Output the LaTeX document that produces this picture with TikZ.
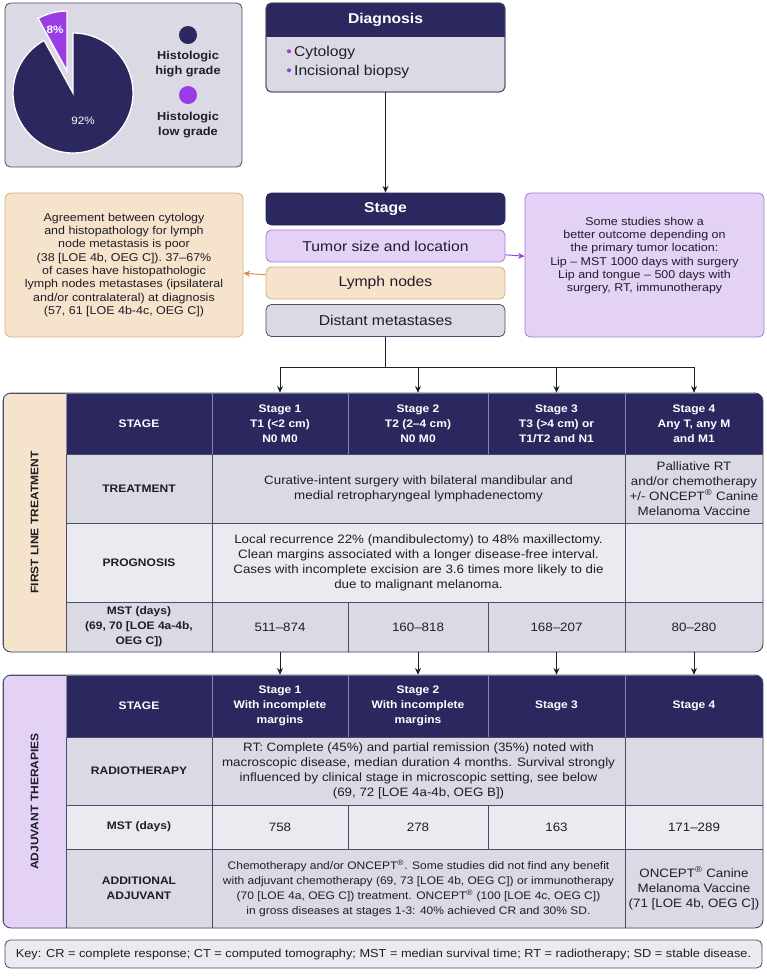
\documentclass[tikz,border=0pt]{standalone}
\usepackage{fontspec}
\setmainfont{Liberation Sans}[FakeStretch=1.1]
\usetikzlibrary{arrows.meta}
\definecolor{navy}{HTML}{2B275F}
\definecolor{ink}{HTML}{1E1E28}
\definecolor{lav}{HTML}{E4D1F6}
\definecolor{lavline}{HTML}{A47BD8}
\definecolor{purp}{HTML}{9A3DE4}
\definecolor{peach}{HTML}{F5E3CB}
\definecolor{peachline}{HTML}{D6AE80}
\definecolor{orangeline}{HTML}{D98A3A}
\definecolor{greybox}{HTML}{DAD9E4}
\definecolor{greylite}{HTML}{EAEAF0}
\definecolor{rule}{HTML}{4D4B6B}
\newcommand\szbig{\fontsize{10.7pt}{14pt}\selectfont}
\newcommand\sznote{\fontsize{8.5pt}{10pt}\selectfont}
\newcommand\sztab{\fontsize{9.1pt}{11.25pt}\selectfont}
\newcommand\sztabs{\fontsize{8.2pt}{11.25pt}\selectfont}
\newcommand\szhead{\fontsize{8.2pt}{11.25pt}\selectfont}
\newcommand\szleg{\fontsize{8.7pt}{11.25pt}\selectfont}
\newcommand\szkey{\fontsize{8.7pt}{10pt}\selectfont}
\newcommand\szpie{\fontsize{8pt}{9pt}\selectfont}
\begin{document}
\begin{tikzpicture}[x=0.75pt,y=-0.75pt,
  sz/.style 2 args={minimum width=#1*0.75pt,minimum height=#2*0.75pt,inner sep=0pt},
  box/.style={rounded corners=4pt,line width=0.6pt,align=center,text=ink},
  cell/.style={draw=rule,line width=0.5pt,align=center,text=ink,font=\sztab},
  hd/.style={cell,fill=navy,draw=navy!55!white,text=white,font=\szhead\bfseries},
  rowA/.style={cell,fill=greybox},
  rowB/.style={cell,fill=greylite},
  lab/.style={font=\szhead\bfseries},
  arr/.style={-{Stealth[length=5pt,width=4.5pt]},line width=0.7pt,draw=ink}]
\useasboundingbox (0,0) rectangle (767,979);
% pie chart
\node[box,draw=rule,fill=greybox,sz={237}{164}] (piebox) at (123.5,85) {};
\fill[navy,draw=white,line width=1pt] (73,93) -- ++(-90:60) arc[start angle=-90,end angle=241.2,radius=60] -- cycle;
\fill[purp,draw=white,line width=1pt] (67,71) -- ++(-118.8:60) arc[start angle=-118.8,end angle=-90,radius=60] -- cycle;
\node[font=\szpie\bfseries,text=white] (lo) at (55,30) {8\%};
\node[font=\szpie,text=white] (hi) at (83,121) {92\%};
\node[circle,fill=navy,sz={18}{18}] (khi) at (188,35) {};
\node[font=\szleg\bfseries,align=center,text=ink] (khil) at (188,64.5) {Histologic\\high grade};
\node[circle,fill=purp,sz={18}{18}] (klo) at (188,95) {};
\node[font=\szleg\bfseries,align=center,text=ink] (klol) at (188,125.5) {Histologic\\low grade};
% diagnosis
\node[box,draw=rule,fill=greybox,sz={239}{89}] (diag) at (385.5,47.5) {};
\begin{scope}
\clip[rounded corners=4pt] (266,3) rectangle (505,92);
\fill[navy] (266,3) rectangle (505,37);
\end{scope}
\draw[rule,line width=0.6pt,rounded corners=4pt] (266,3) rectangle (505,92);
\node[text=white,font=\szbig\bfseries] (diagt) at (385.5,20) {Diagnosis};
\node[anchor=west,align=left,inner sep=0pt,font=\szbig,text=ink] (dlist) at (286,62.5)
  {\textcolor{purp}{\textbullet}\,Cytology\\\textcolor{purp}{\textbullet}\,Incisional biopsy};
% stage stack
\node[box,fill=navy,draw=navy,text=white,font=\szbig\bfseries,sz={239}{32}] (stage) at (385.5,209) {Stage};
\node[box,fill=lav,draw=lavline,font=\szbig,sz={239}{32}] (tumor) at (385.5,246) {Tumor size and location};
\node[box,fill=peach,draw=peachline,font=\szbig,sz={239}{32}] (lymph) at (385.5,283) {Lymph nodes};
\node[box,fill=greybox,draw=rule,font=\szbig,sz={239}{32}] (dist) at (385.5,320.5) {Distant metastases};
\node[box,fill=peach,draw=peachline,font=\sznote,sz={238}{144}] (lnnote) at (124,265)
  {Agreement between cytology\\and histopathology for lymph\\node metastasis is poor\\(38 [LOE 4b, OEG C]). 37–67\%\\of cases have histopathologic\\lymph nodes metastases (ipsilateral\\and/or contralateral) at diagnosis\\(57, 61 [LOE 4b-4c, OEG C])};
\node[box,fill=lav,draw=lavline,font=\sznote,sz={239}{144}] (sitenote) at (644.5,265)
  {Some studies show a\\better outcome depending on\\the primary tumor location:\\Lip – MST 1000 days with surgery\\Lip and tongue – 500 days with\\surgery, RT, immunotherapy\\[6pt]};
% first line treatment
\begin{scope}
\clip[rounded corners=6pt] (3,393) rectangle (763,652);
\node[cell,fill=peach,sz={63}{259}] (band1) at (34.5,522.5) {};
\node[rotate=90,font=\szhead\bfseries,text=ink] (band1t) at (band1) {FIRST LINE TREATMENT};
\node[hd,sz={146}{61}] (t1h) at (139,423.5) {STAGE};
\node[hd,sz={136}{61}] (t1s1) at (280,423.5) {Stage 1\\T1 (<2 cm)\\N0 M0};
\node[hd,sz={140}{61}] (t1s2) at (418,423.5) {Stage 2\\T2 (2–4 cm)\\N0 M0};
\node[hd,sz={137}{61}] (t1s3) at (556.5,423.5) {Stage 3\\T3 (>4 cm) or\\T1/T2 and N1};
\node[hd,sz={138}{61}] (t1s4) at (694,423.5) {Stage 4\\Any T, any M\\and M1};
\node[rowA,lab,sz={146}{69}] (t1tl) at (139,488.5) {TREATMENT};
\node[rowA,sz={413}{69}] (t1t) at (418.5,488.5) {Curative-intent surgery with bilateral mandibular and\\medial retropharyngeal lymphadenectomy};
\node[rowA,sz={138}{69}] (t1t4) at (694,488.5) {Palliative RT\\and/or chemotherapy\\+/- ONCEPT\textsuperscript{®} Canine\\Melanoma Vaccine};
\node[rowB,lab,sz={146}{79}] (t1pl) at (139,562.5) {PROGNOSIS};
\node[rowB,sz={413}{79}] (t1p) at (418.5,562.5) {Local recurrence 22\% (mandibulectomy) to 48\% maxillectomy.\\Clean margins associated with a longer disease-free interval.\\Cases with incomplete excision are 3.6 times more likely to die\\due to malignant melanoma.};
\node[rowB,sz={138}{79}] (t1p4) at (694,562.5) {};
\node[rowA,lab,sz={146}{50}] (t1ml) at (139,627) {MST (days)\\(69, 70 [LOE 4a-4b,\\OEG C])};
\node[rowA,sz={136}{50}] (t1m1) at (280,627) {511–874};
\node[rowA,sz={140}{50}] (t1m2) at (418,627) {160–818};
\node[rowA,sz={137}{50}] (t1m3) at (556.5,627) {168–207};
\node[rowA,sz={138}{50}] (t1m4) at (694,627) {80–280};
\end{scope}
\draw[rule,line width=0.7pt,rounded corners=6pt] (3,393) rectangle (763,652);
% adjuvant therapies
\begin{scope}
\clip[rounded corners=6pt] (3,675) rectangle (763,928);
\node[cell,fill=lav,sz={63}{253}] (band2) at (34.5,801.5) {};
\node[rotate=90,font=\szhead\bfseries,text=ink] (band2t) at (band2) {ADJUVANT THERAPIES};
\node[hd,sz={146}{62}] (t2h) at (139,706) {STAGE};
\node[hd,sz={136}{62}] (t2s1) at (280,706) {Stage 1\\With incomplete\\margins};
\node[hd,sz={140}{62}] (t2s2) at (418,706) {Stage 2\\With incomplete\\margins};
\node[hd,sz={137}{62}] (t2s3) at (556.5,706) {Stage 3};
\node[hd,sz={138}{62}] (t2s4) at (694,706) {Stage 4};
\node[rowA,lab,sz={146}{68}] (t2rl) at (139,771) {RADIOTHERAPY};
\node[rowA,sz={413}{68}] (t2r) at (418.5,771) {RT: Complete (45\%) and partial remission (35\%) noted with\\macroscopic disease, median duration 4 months. Survival strongly\\influenced by clinical stage in microscopic setting, see below\\(69, 72 [LOE 4a-4b, OEG B])};
\node[rowA,sz={138}{68}] (t2r4) at (694,771) {};
\node[rowB,lab,sz={146}{44}] (t2ml) at (139,827) {MST (days)};
\node[rowB,sz={136}{44}] (t2m1) at (280,827) {758};
\node[rowB,sz={140}{44}] (t2m2) at (418,827) {278};
\node[rowB,sz={137}{44}] (t2m3) at (556.5,827) {163};
\node[rowB,sz={138}{44}] (t2m4) at (694,827) {171–289};
\node[rowA,lab,sz={146}{79}] (t2al) at (139,888.5) {ADDITIONAL\\ADJUVANT};
\node[rowA,font=\sztabs,sz={413}{79}] (t2a) at (418.5,888.5) {Chemotherapy and/or ONCEPT\textsuperscript{®}. Some studies did not find any benefit\\with adjuvant chemotherapy (69, 73 [LOE 4b, OEG C]) or immunotherapy\\(70 [LOE 4a, OEG C]) treatment. ONCEPT\textsuperscript{®} (100 [LOE 4c, OEG C])\\in gross diseases at stages 1-3: 40\% achieved CR and 30\% SD.};
\node[rowA,sz={138}{79}] (t2a4) at (694,888.5) {ONCEPT\textsuperscript{®} Canine\\Melanoma Vaccine\\(71 [LOE 4b, OEG C])};
\end{scope}
\draw[rule,line width=0.7pt,rounded corners=6pt] (3,675) rectangle (763,928);
% key
\node[box,draw=rule,fill=greylite,font=\szkey,sz={757}{28}] (key) at (383.5,954) {Key: CR = complete response; CT = computed tomography; MST = median survival time; RT = radiotherapy; SD = stable disease.};
% connectors
\draw[arr] (diag) -- (stage);
\draw[arr,draw=purp] (tumor) -- (sitenote);
\draw[arr,draw=orangeline] (lymph) -- (lnnote);
\coordinate (split) at (385.5,367);
\draw[line width=0.7pt,draw=ink] (dist) -- (split);
\draw[line width=0.7pt,draw=ink] (t1s1.north |- split) -- (t1s4.north |- split);
\foreach \n in {1,...,4} {
  \draw[arr] (t1s\n.north |- split) -- (t1s\n);
  \draw[arr] (t1m\n) -- (t2s\n);
}
\end{tikzpicture}
\end{document}
